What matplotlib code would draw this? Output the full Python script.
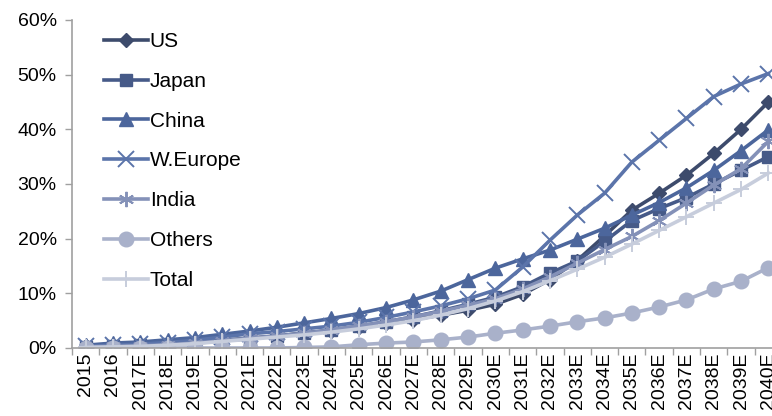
import matplotlib
matplotlib.use('Agg')
from matplotlib import pyplot as plt
from matplotlib.ticker import FixedLocator, FuncFormatter

plt.rcParams['font.family'] = ['Liberation Sans', 'DejaVu Sans']

years = ['2015', '2016'] + ['%dE' % y for y in range(2017, 2041)]

us = [0.3, 0.4, 0.6, 0.8, 1.0, 1.4, 1.8, 2.2, 2.7, 3.2, 3.8, 4.5, 5.2,
      6.0, 6.9, 8.0, 9.8, 12.5, 16.0, 20.5, 25.2, 28.3, 31.6, 35.6, 40.0, 45.0]
japan = [0.2, 0.3, 0.5, 0.7, 1.0, 1.3, 1.7, 2.2, 2.7, 3.3, 4.0, 4.8, 5.7,
         6.8, 8.0, 9.3, 11.2, 13.7, 15.9, 19.5, 23.3, 25.5, 27.5, 30.0, 32.5, 35.0]
china = [0.5, 0.9, 1.1, 1.5, 1.9, 2.5, 3.1, 3.8, 4.6, 5.4, 6.3, 7.4, 8.8,
         10.4, 12.5, 14.6, 16.3, 17.9, 19.9, 21.9, 24.3, 26.6, 29.3, 32.5, 36.1, 39.9]
weurope = [0.3, 0.5, 0.7, 1.0, 1.4, 2.0, 2.6, 3.0, 3.5, 4.0, 4.7, 5.6, 6.6,
           7.7, 9.0, 10.6, 14.8, 19.7, 24.3, 28.3, 34.0, 38.0, 42.0, 46.0, 48.3, 50.2]
india = [0.2, 0.3, 0.4, 0.6, 0.9, 1.3, 1.8, 2.2, 2.7, 3.3, 4.0, 4.8, 5.7,
         6.7, 7.8, 9.0, 10.8, 13.0, 15.5, 18.0, 20.4, 23.3, 26.5, 29.8, 32.8, 37.8]
others = [0.0, 0.0, 0.0, 0.0, 0.0, 0.0, 0.0, 0.0, 0.1, 0.2, 0.6, 0.9, 1.1,
          1.5, 2.0, 2.7, 3.3, 4.0, 4.8, 5.5, 6.4, 7.5, 8.8, 10.8, 12.2, 14.7]
total = [0.1, 0.2, 0.3, 0.5, 0.8, 1.2, 1.6, 2.0, 2.4, 2.9, 3.5, 4.2, 5.0,
         6.0, 7.2, 8.6, 10.3, 12.3, 14.4, 16.6, 19.0, 21.5, 24.0, 26.5, 29.0, 32.0]

# name, values, colour, marker, marker size, marker edge width
series = [
    ('US', us, '#3d4b6c', 'D', 7.5, 1),
    ('Japan', japan, '#465a88', 's', 8.5, 1),
    ('China', china, '#4c669c', '^', 9.5, 1),
    ('W.Europe', weurope, '#5b74aa', 'x', 11, 1.4),
    ('India', india, '#8491b8', (6, 2, 0), 11, 1.4),
    ('Others', others, '#a9b1ca', 'o', 10.5, 1),
    ('Total', total, '#c7cddc', '+', 12, 1.4),
]

fig = plt.figure(figsize=(7.72, 4.16), dpi=100)
ax = fig.add_axes([72 / 772, 68 / 416, 710 / 772, 328 / 416])

x = range(len(years))
for name, vals, col, mk, ms, mew in series:
    ax.plot(x, vals, color=col, lw=2.6, marker=mk, ms=ms, mew=mew,
            mec=col, mfc=col, label=name, solid_joinstyle='round')

ax.set_xlim(-0.5, len(years) - 0.5)
ax.set_ylim(0, 60)
ax.set_yticks(range(0, 61, 10))
ax.yaxis.set_major_formatter(FuncFormatter(lambda v, p: '%d%%' % v))

ax.set_xticks(list(x))
ax.set_xticklabels(years, rotation=90)
ax.xaxis.set_minor_locator(FixedLocator([i - 0.5 for i in range(len(years) + 1)]))
ax.tick_params(axis='x', which='major', length=0, pad=3, labelsize=14)
ax.tick_params(axis='x', which='minor', length=5, color='#a0a0a0', width=1)
ax.tick_params(axis='y', length=5, color='#a0a0a0', width=1, labelsize=14, pad=6)

for s in ['top', 'right']:
    ax.spines[s].set_visible(False)
for s in ['left', 'bottom']:
    ax.spines[s].set_color('#a0a0a0')
    ax.spines[s].set_linewidth(1.2)

ax.legend(loc='upper left', bbox_to_anchor=(104 / 772, 384 / 416),
          bbox_transform=fig.transFigure, frameon=False, fontsize=15,
          handlelength=2.1, handletextpad=0.1, labelspacing=1.0,
          borderpad=0, borderaxespad=0)

plt.savefig('out.png', dpi=100)
